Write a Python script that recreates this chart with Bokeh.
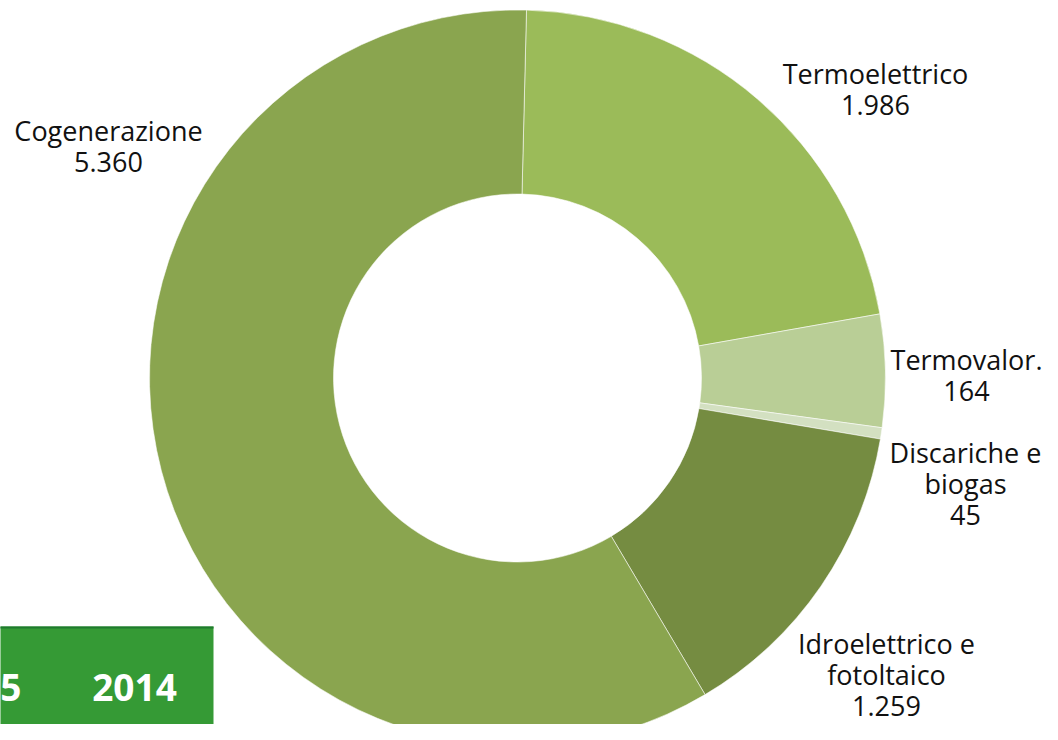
import numpy as np
from bokeh.plotting import figure
from bokeh.models import Range1d, ColumnDataSource
from bokeh.core.properties import value
from bokeh.embed import file_html
from bokeh.resources import INLINE

# ---- data (clockwise from top) ----
categories = ["Termoelettrico", "Termovalor.", "Discariche e biogas", "Idroelettrico e fotoltaico", "Cogenerazione"]
label_lines = [["Termoelettrico"], ["Termovalor."], ["Discariche e", "biogas"], ["Idroelettrico e", "fotoltaico"], ["Cogenerazione"]]
label_values = ["1.986", "164", "45", "1.259", "5.360"]
# slice sizes as drawn in the picture (angular share)
slice_values = [1986, 450, 45, 1259, 5360]
colors = ["#9BBB59", "#B9CE96", "#D3E0C1", "#758C41", "#8AA54F"]
years = ["5", "2014"]   # the first year label is cut off at the left edge in the original

W, H = 1042, 724
p = figure(width=W, height=H, output_backend="svg", toolbar_location=None,
           x_range=Range1d(0, W), y_range=Range1d(0, H),
           min_border=0)
p.axis.visible = False
p.grid.visible = False
p.outline_line_color = None
p.background_fill_color = "white"
p.border_fill_color = "white"

def Y(yref):
    return H - yref

# ---- donut ----
cx, cy = 517, Y(377.5)
R_out, R_in = 368, 184
start_offset = 1.4  # degrees clockwise from top
vals = np.array(slice_values, dtype=float)
cum = np.concatenate([[0], np.cumsum(vals)]) / vals.sum() * 360.0 + start_offset
starts = np.radians(90 - cum[:-1])
ends = np.radians(90 - cum[1:])
src = ColumnDataSource(dict(start=starts, end=ends, color=colors))
p.annular_wedge(x=cx, y=cy, inner_radius=R_in, outer_radius=R_out,
                start_angle="start", end_angle="end", direction="clock",
                fill_color="color", line_color="white", line_width=1, line_alpha=0.55,
                source=src)

# ---- labels ----
label_pos = [(875, 73), (966, 359), (965, 452), (886, 643), (108, 130)]
spacing = 31
for lines, val, (lx, ly) in zip(label_lines, label_values, label_pos):
    all_lines = lines + [val]
    for i, t in enumerate(all_lines):
        p.text(x=[lx], y=[Y(ly + i * spacing)], text=[t],
               text_font=value("Open Sans"), text_font_size="27px",
               text_color="#111111", text_align="center", text_baseline="alphabetic")

# ---- green year box (cropped) ----
p.quad(left=[-20], right=[213], bottom=[Y(745)], top=[Y(626)],
       fill_color="#359A35", line_color=None)
p.segment(x0=[-20], x1=[213], y0=[Y(627)], y1=[Y(627)], line_color="#1F7A2E", line_width=2)
p.text(x=[21, 134], y=[Y(687), Y(687)], text=years,
       text_font=value("Open Sans"), text_font_size="37px", text_font_style="bold",
       text_color="white", text_align=["right", "center"], text_baseline="alphabetic")

open("out.html", "w").write(file_html(p, INLINE))
